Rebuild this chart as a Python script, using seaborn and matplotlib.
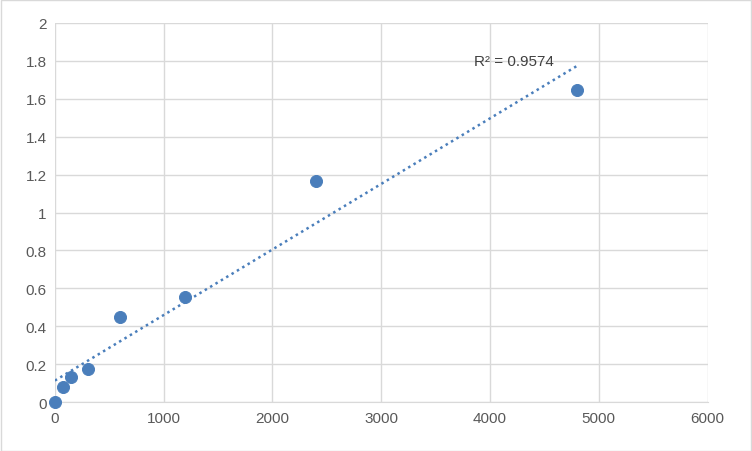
import numpy as np
import matplotlib
matplotlib.use("Agg")
import matplotlib.pyplot as plt
import seaborn as sns

conc = [0, 75, 150, 300, 600, 1200, 2400, 4800]
od = [0.0, 0.08, 0.135, 0.175, 0.45, 0.555, 1.165, 1.645]
x_ticks = [0, 1000, 2000, 3000, 4000, 5000, 6000]
y_ticks = [0, 0.2, 0.4, 0.6, 0.8, 1, 1.2, 1.4, 1.6, 1.8, 2]
r2_label = "R² = 0.9574"

sns.set_style("white")
plt.rcParams['font.family'] = ['Liberation Sans', 'DejaVu Sans']
fig = plt.figure(figsize=(7.52, 4.52), dpi=100)
fig.patches.append(plt.Rectangle((0.001, 0.001), 0.998, 0.997, transform=fig.transFigure,
                                 fill=False, edgecolor="#d9d9d9", lw=1))
ax = fig.add_axes([0.073, 0.108, 0.868, 0.839])

slope, icpt = np.polyfit(conc, od, 1)
xl = np.array([0, 4800])
ax.plot(xl, slope * xl + icpt, ls=(0, (1, 1.5)), color="#4a7ebb", lw=1.8, zorder=2)
sns.scatterplot(x=conc, y=od, ax=ax, s=75, color="#4a7ebb", edgecolor="#4a7ebb", zorder=3)
ax.text(3850, 1.8, r2_label, fontsize=11, color="#404040", va="center")

ax.set_xlim(0, 6000)
ax.set_ylim(0, 2)
ax.set_xticks(x_ticks)
ax.set_yticks(y_ticks)
ax.set_yticklabels([f"{v:g}" for v in y_ticks])
ax.grid(True, color="#d9d9d9", lw=1)
for s in ["top", "right", "left"]:
    ax.spines[s].set_visible(False)
ax.spines["bottom"].set_color("#d9d9d9")
ax.tick_params(colors="#595959", labelsize=11, length=0, pad=6)
for c in ax.collections:
    c.set_clip_on(False)
fig.savefig("out.png", dpi=100)
